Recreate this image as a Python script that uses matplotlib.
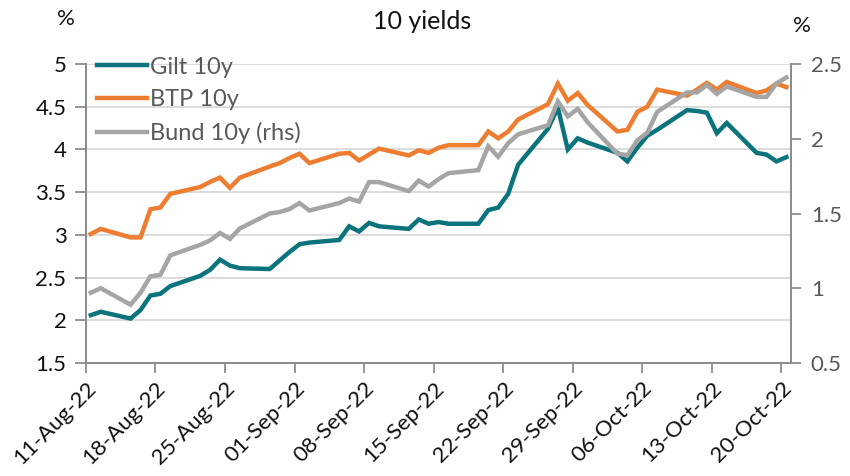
import pandas as pd
import matplotlib
matplotlib.use("Agg")
from matplotlib import pyplot as plt
import matplotlib.dates as mdates

plt.rcParams['font.family'] = ['Lato', 'DejaVu Sans']

dates = ['2022-08-11', '2022-08-12', '2022-08-15', '2022-08-16', '2022-08-17', '2022-08-18',
         '2022-08-19', '2022-08-22', '2022-08-23', '2022-08-24', '2022-08-25', '2022-08-26',
         '2022-08-29', '2022-08-30', '2022-08-31', '2022-09-01', '2022-09-02', '2022-09-05',
         '2022-09-06', '2022-09-07', '2022-09-08', '2022-09-09', '2022-09-12', '2022-09-13',
         '2022-09-14', '2022-09-15', '2022-09-16', '2022-09-19', '2022-09-20', '2022-09-21',
         '2022-09-22', '2022-09-23', '2022-09-26', '2022-09-27', '2022-09-28', '2022-09-29',
         '2022-09-30', '2022-10-03', '2022-10-04', '2022-10-05', '2022-10-06', '2022-10-07',
         '2022-10-10', '2022-10-11', '2022-10-12', '2022-10-13', '2022-10-14', '2022-10-17',
         '2022-10-18', '2022-10-19', '2022-10-20']

gilt = [2.06, 2.10, 2.02, 2.12, 2.29, 2.31, 2.40, 2.52, 2.59, 2.71, 2.64, 2.61, 2.60, 2.70, 2.80,
        2.89, 2.91, 2.94, 3.10, 3.04, 3.14, 3.10, 3.07, 3.18, 3.13, 3.15, 3.13, 3.13, 3.29, 3.32,
        3.48, 3.82, 4.24, 4.49, 4.00, 4.13, 4.08,
        3.96, 3.86, 4.02, 4.16, 4.23, 4.46, 4.45, 4.43, 4.19, 4.31, 3.96, 3.94, 3.86, 3.91]

btp = [3.01, 3.07, 2.97, 2.97, 3.30, 3.32, 3.48, 3.56, 3.62, 3.67, 3.55, 3.67, 3.80, 3.84, 3.90,
       3.95, 3.84, 3.95, 3.96, 3.87, 3.94, 4.01, 3.93, 3.99, 3.96, 4.02, 4.05, 4.05, 4.21, 4.13,
       4.21, 4.35, 4.53, 4.77, 4.57, 4.66, 4.52,
       4.21, 4.23, 4.44, 4.50, 4.70, 4.63, 4.70, 4.78, 4.70, 4.79, 4.66, 4.69, 4.77, 4.73]

bund = [0.97, 1.00, 0.89, 0.97, 1.08, 1.09, 1.22, 1.29, 1.32, 1.37, 1.33, 1.40, 1.50, 1.51, 1.53,
        1.57, 1.52, 1.57, 1.60, 1.58, 1.71, 1.71, 1.65, 1.72, 1.68, 1.73, 1.77, 1.79, 1.95, 1.88,
        1.97, 2.03, 2.09, 2.25, 2.15, 2.20, 2.11,
        1.90, 1.89, 1.99, 2.04, 2.18, 2.31, 2.31, 2.36, 2.30, 2.35, 2.28, 2.28, 2.37, 2.41]

# excel date axis puts each point in the middle of its day
x = pd.to_datetime(dates) + pd.Timedelta(hours=12)

TEAL = '#0b737c'
ORANGE = '#ed7d31'
GREY = '#a5a5a5'
AXIS = '#8c8c8c'
TXT = '#111111'
TXT2 = '#595959'

fig = plt.figure(figsize=(8.5, 4.76), dpi=100)
ax = fig.add_axes([0.101, 0.2374, 0.830, 0.6281])
ax2 = ax.twinx()

l1, = ax.plot(x, gilt, color=TEAL, lw=3.2, label='Gilt 10y', solid_joinstyle='miter')
l2, = ax.plot(x, btp, color=ORANGE, lw=3.2, label='BTP 10y', solid_joinstyle='miter')
l3, = ax2.plot(x, bund, color=GREY, lw=3.2, label='Bund 10y (rhs)', solid_joinstyle='miter')

ax.set_ylim(1.5, 5)
ax.set_yticks([1.5, 2, 2.5, 3, 3.5, 4, 4.5, 5])
ax.set_yticklabels(['1.5', '2', '2.5', '3', '3.5', '4', '4.5', '5'])
ax2.set_ylim(0.5, 2.5)
ax2.set_yticks([0.5, 1, 1.5, 2, 2.5])
ax2.set_yticklabels(['0.5', '1', '1.5', '2', '2.5'])

ax.set_xlim(pd.Timestamp('2022-08-11'), pd.Timestamp('2022-10-21'))
ticks = pd.date_range('2022-08-11', '2022-10-20', freq='7D')
ax.set_xticks(ticks)
ax.xaxis.set_major_formatter(mdates.DateFormatter('%d-%b-%y'))
for lab in ax.get_xticklabels():
    lab.set_rotation(45)
    lab.set_ha('right')
    lab.set_rotation_mode('anchor')

ax.grid(axis='y', color='#d9d9d9', lw=1.3)
ax.set_axisbelow(True)

for a in (ax, ax2):
    a.spines['top'].set_visible(False)
    for s in ('left', 'right', 'bottom'):
        a.spines[s].set_color(AXIS)
        a.spines[s].set_linewidth(1.3)
    a.tick_params(labelsize=16, length=7, width=1.3, color=AXIS)
ax.tick_params(axis='y', pad=6, labelcolor=TXT, length=8)
ax.tick_params(axis='x', pad=4, labelcolor=TXT)
ax2.tick_params(axis='y', pad=7, labelcolor=TXT2)

ax2.legend(handles=[l1, l2, l3], loc='upper left', bbox_to_anchor=(-0.008, 1.08),
           frameon=False, fontsize=17, handlelength=2.15, handletextpad=0.12,
           labelspacing=0.5, labelcolor=TXT2, borderpad=0.2)

fig.text(0.497, 0.955, '10 yields', ha='center', va='center', fontsize=18, color=TXT)
fig.text(0.078, 0.96, '%', ha='center', va='center', fontsize=16, color=TXT)
fig.text(0.944, 0.945, '%', ha='center', va='center', fontsize=16, color=TXT)

fig.savefig('out.png', dpi=100)
